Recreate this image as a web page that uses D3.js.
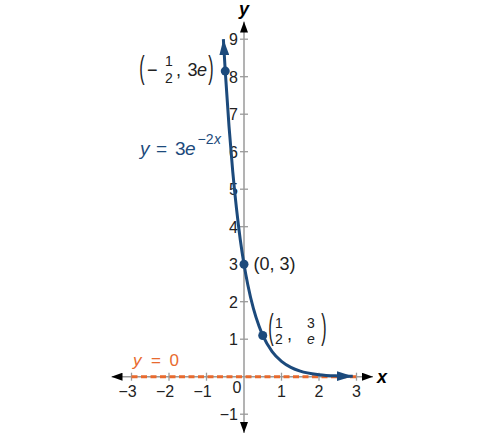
<!DOCTYPE html>
<html><head><meta charset="utf-8">
<script src="https://cdn.jsdelivr.net/npm/d3@7"></script>
<style>body{margin:0;background:#fff}svg{display:block}text{font-family:"Liberation Sans",Arial,sans-serif}</style>
</head><body>
<script>
const xTicks = [-3,-2,-1,1,2,3];
const yTicks = [-1,1,2,3,4,5,6,7,8,9];
// curve y = 3e^(-2x)
const curveX = [-0.55,-0.5,-0.4,-0.3,-0.2,-0.1,0,0.1,0.25,0.4,0.5,0.75,1,1.25,1.5,2,2.5,2.9];
const curveY = [9.0,8.15,6.68,5.47,4.48,3.66,3.0,2.46,1.82,1.35,1.10,0.67,0.41,0.25,0.15,0.055,0.02,0.01];
const pointX = [-0.5,0,0.5];
const pointY = [8.15,3,1.10];
const asymX = [-3,3];
const asymY = [0,0];

const W=487,H=438;
const blue="#1c4a7c", orange="#e86a2e", grey="#9a9a9a";
const svg=d3.select("body").append("svg").attr("width",W).attr("height",H);
const x=d3.scaleLinear().domain([-3,3]).range([131.5,356.5]);
const y=d3.scaleLinear().domain([-1,9]).range([414.2,39.2]);

const defs=svg.append("defs");
function marker(id,color,len,wid){
  defs.append("marker").attr("id",id).attr("viewBox",`0 0 ${len} ${wid}`)
   .attr("refX",len).attr("refY",wid/2).attr("markerWidth",len).attr("markerHeight",wid)
   .attr("markerUnits","userSpaceOnUse").attr("orient","auto-start-reverse")
   .append("path").attr("d",`M0,0L${len},${wid/2}L0,${wid}Z`).attr("fill",color);
}
marker("ax","#000",11,8);
marker("cv",blue,16,10);

// axes
svg.append("line").attr("x1",111.5).attr("x2",373).attr("y1",y(0)).attr("y2",y(0))
  .attr("stroke",grey).attr("stroke-width",1.5).attr("marker-start","url(#ax)").attr("marker-end","url(#ax)");
svg.append("line").attr("x1",x(0)).attr("x2",x(0)).attr("y1",433).attr("y2",21.5)
  .attr("stroke",grey).attr("stroke-width",1.5).attr("marker-start","url(#ax)").attr("marker-end","url(#ax)");

// ticks
svg.selectAll(".xt").data(xTicks).enter().append("line")
  .attr("x1",d=>x(d)).attr("x2",d=>x(d)).attr("y1",y(0)-4).attr("y2",y(0)+4)
  .attr("stroke",grey).attr("stroke-width",1.3);
svg.selectAll(".yt").data(yTicks).enter().append("line")
  .attr("y1",d=>y(d)).attr("y2",d=>y(d)).attr("x1",x(0)-4).attr("x2",x(0)+4)
  .attr("stroke",grey).attr("stroke-width",1.3);

const fmt=d=>d<0?"\u2212"+(-d):String(d);
svg.selectAll(".xl").data(xTicks).enter().append("text")
  .attr("x",d=>x(d)+(d<0?-4:0)).attr("y",y(0)+20).attr("text-anchor","middle")
  .attr("font-size",16).attr("fill","#222").text(fmt);
svg.selectAll(".yl").data(yTicks).enter().append("text")
  .attr("x",x(0)-6).attr("y",d=>y(d)+6).attr("text-anchor","end")
  .attr("font-size",16).attr("fill","#222").text(fmt);
svg.append("text").attr("x",x(0)-7).attr("y",y(0)+16).attr("text-anchor","middle")
  .attr("font-size",16).attr("fill","#222").text("0");

// axis labels
svg.append("text").attr("x",382).attr("y",y(0)+6).attr("text-anchor","middle")
  .attr("font-size",18).attr("font-weight","bold").attr("font-style","italic").text("x");
svg.append("text").attr("x",x(0)).attr("y",15).attr("text-anchor","middle")
  .attr("font-size",18).attr("font-weight","bold").attr("font-style","italic").text("y");

// asymptote
svg.append("line").attr("x1",x(asymX[0])).attr("x2",x(asymX[1])).attr("y1",y(asymY[0])).attr("y2",y(asymY[1]))
  .attr("stroke",orange).attr("stroke-width",3).attr("stroke-dasharray","6,3.5");

// curve
const pts=curveX.map((v,i)=>[v,curveY[i]]);
svg.append("path").datum(pts)
  .attr("d",d3.line().x(d=>x(d[0])).y(d=>y(d[1])).curve(d3.curveMonotoneX))
  .attr("fill","none").attr("stroke",blue).attr("stroke-width",3)
  .attr("marker-start","url(#cv)").attr("marker-end","url(#cv)");

// points
svg.selectAll(".pt").data(pointX).enter().append("circle")
  .attr("cx",d=>x(d)).attr("cy",(d,i)=>y(pointY[i])).attr("r",4.5).attr("fill",blue);

// helpers
function paren(g,ch,px,cy,sy){
  g.append("text").attr("transform",`translate(${px},${cy}) scale(1,${sy})`)
   .attr("y",4.2).attr("text-anchor","middle").attr("font-size",16).attr("fill","#222").text(ch);
}
function t(g,str,px,py,fs,anchor,italic,col){
  return g.append("text").attr("x",px).attr("y",py).attr("font-size",fs)
    .attr("text-anchor",anchor||"start").attr("font-style",italic?"italic":"normal").attr("fill",col||"#222").text(str);
}
// label (-1/2, 3e)
const g1=svg.append("g");
paren(g1,"(",142,70,2);
t(g1,"\u2212",147,76,18);
t(g1,"1",169,66,14,"middle");
t(g1,"2",169,82.5,14,"middle");
t(g1,",",176,76,18);
t(g1,"3",187.5,76,18);
t(g1,"e",197,76,18,"start",true);
paren(g1,")",211,70,2);

// label (0,3)
t(svg,"(0, 3)",253.5,270,18);

// label (1/2, 3/e)
const g2=svg.append("g");
paren(g2,"(",271,330,2.2);
t(g2,"1",279,327.5,14,"middle");
t(g2,"2",279,344,14,"middle");
t(g2,",",287,340,18);
t(g2,"3",311,327.5,14,"middle");
t(g2,"e",311,344,14,"middle",true);
paren(g2,")",324,330,2.2);

// curve label
t(svg,"y",140,155,19,"start",true,blue);
t(svg,"=",156,155,19,"start",false,blue);
t(svg,"3",175,155,19,"start",false,blue);
t(svg,"e",185,155,19,"start",true,blue);
t(svg,"\u22122",197.5,143.5,14,"start",false,blue);
t(svg,"x",214,143.5,14,"start",true,blue);

// asymptote label
t(svg,"y",133,366,17,"start",true,orange);
t(svg,"=",151,366,17,"start",false,orange);
t(svg,"0",169.5,366,17,"start",false,orange);
</script>
</body></html>
